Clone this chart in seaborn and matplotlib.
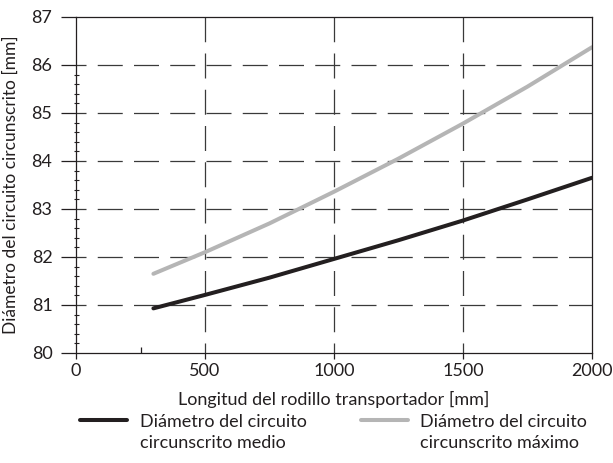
import numpy as np
import pandas as pd
import matplotlib
matplotlib.use("Agg")
import matplotlib.pyplot as plt
import seaborn as sns
from matplotlib.ticker import FixedLocator
from matplotlib.lines import Line2D
from matplotlib.legend_handler import HandlerLine2D

# ---- data ----
longitud = [300, 500, 750, 1000, 1250, 1500, 1750, 2000]
diam_medio = [80.93, 81.21, 81.57, 81.96, 82.35, 82.76, 83.20, 83.65]
diam_maximo = [81.65, 82.10, 82.70, 83.36, 84.05, 84.78, 85.55, 86.37]
label_medio = "Diámetro del circuito\ncircunscrito medio"
label_maximo = "Diámetro del circuito\ncircunscrito máximo"
x_ticks = [0, 500, 1000, 1500, 2000]
y_ticks = [80, 81, 82, 83, 84, 85, 86, 87]

df = pd.DataFrame({
    "x": longitud * 2,
    "y": diam_medio + diam_maximo,
    "serie": [label_medio] * len(longitud) + [label_maximo] * len(longitud),
})

sns.set_theme(style="white")
plt.rcParams["font.family"] = ["Lato", "DejaVu Sans"]
TXT = "#231f20"
FS = 13

fig = plt.figure(figsize=(6.13, 4.63), dpi=100)
ax = fig.add_axes([76 / 613, 1 - 353 / 463, (592 - 76) / 613, (353 - 17) / 463])

palette = {label_medio: "#231f20", label_maximo: "#b5b5b5"}
sns.lineplot(data=df, x="x", y="y", hue="serie", palette=palette,
             linewidth=2.9, ax=ax, legend=False)

ax.set_xlim(0, 2000)
ax.set_ylim(80, 87)
ax.set_xticks(x_ticks)
ax.set_yticks(y_ticks)
ax.xaxis.set_minor_locator(FixedLocator([250]))
ax.yaxis.set_minor_locator(FixedLocator([80 + 0.2 * i for i in range(1, 30) if i % 5 != 0]))

# dashed grid
grid_kw = dict(color="#3a3a3a", linewidth=0.9, linestyle=(12, (20, 9)), zorder=0.5)
ax.grid(False)
for yv in y_ticks[1:-1]:
    ax.axhline(yv, **grid_kw)
for xv in x_ticks[1:-1]:
    ax.axvline(xv, **grid_kw)

for s in ax.spines.values():
    s.set_color(TXT)
    s.set_linewidth(0.9)

ax.tick_params(axis="y", which="major", direction="out", length=11, width=0.9,
               color=TXT, pad=6, labelsize=FS, labelcolor=TXT, left=True)
ax.tick_params(axis="y", which="minor", direction="inout", length=3.6, width=0.8,
               color=TXT, left=True)
ax.tick_params(axis="x", which="major", direction="out", length=4.5, width=0.9,
               color=TXT, pad=3, labelsize=FS, labelcolor=TXT, bottom=True)
ax.tick_params(axis="x", which="minor", direction="in", length=4.3, width=0.9,
               color=TXT, bottom=True)

ax.set_xlabel("Longitud del rodillo transportador [mm]", fontsize=FS, color=TXT, labelpad=8)
ax.set_ylabel("Diámetro del circuito circunscrito [mm]", fontsize=12.5, color=TXT, labelpad=9)


class FirstLineHandler(HandlerLine2D):
    """Legend handle aligned with the first line of a two-line label."""
    def __init__(self, dy, **kw):
        super().__init__(**kw)
        self.dy = dy

    def create_artists(self, legend, orig_handle, xdescent, ydescent,
                       width, height, fontsize, trans):
        arts = super().create_artists(legend, orig_handle, xdescent, ydescent,
                                      width, height, fontsize, trans)
        for a in arts:
            a.set_ydata(np.asarray(a.get_ydata(), dtype=float) + self.dy)
        return arts


handles = [Line2D([], [], color=palette[label_medio], linewidth=2.9),
           Line2D([], [], color=palette[label_maximo], linewidth=2.9)]
hmap = {h: FirstLineHandler(dy=9.1) for h in handles}
leg = fig.legend(handles, [label_medio, label_maximo], ncol=2, frameon=False,
                 loc="upper left", bbox_to_anchor=(80 / 613, 1 - 414 / 463),
                 fontsize=FS, handlelength=2.6, handletextpad=0.7, columnspacing=3.0,
                 borderpad=0, borderaxespad=0, labelcolor=TXT, handler_map=hmap)
for t in leg.get_texts():
    t.set_linespacing(1.4)

fig.savefig("out.png", dpi=100)
